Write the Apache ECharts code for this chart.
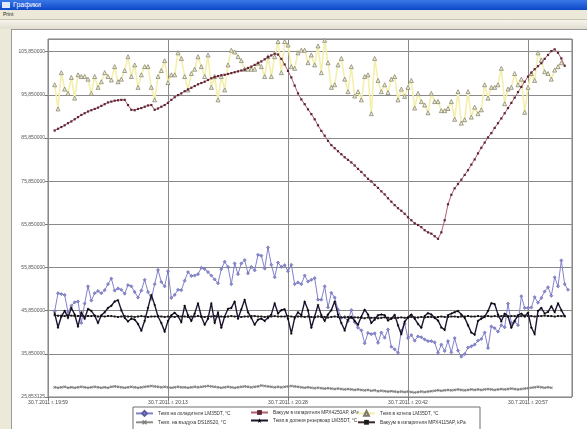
<!DOCTYPE html>
<html><head><meta charset="utf-8">
<script src="https://cdn.jsdelivr.net/npm/echarts@6/dist/echarts.min.js"></script>
<style>
html,body{margin:0;padding:0;width:587px;height:429px;overflow:hidden;background:#ece9d8;font-family:"Liberation Sans",Arial,sans-serif;}
#tb{position:absolute;left:0;top:0;width:587px;height:10px;background:linear-gradient(#3a78e8,#0c48c8);}
#tb span{position:absolute;left:13px;top:1px;font-size:7px;color:#fff;}
#tb i{position:absolute;left:2px;top:2px;width:8px;height:6px;background:#dfe8ff;}
#mn{position:absolute;left:3px;top:11px;font-size:5px;color:#222;}
#bar{position:absolute;left:0;top:19px;width:587px;height:9px;background:linear-gradient(#f6f4ec,#e2ded0);border-top:1px solid #c8c4b4;}
#panel{position:absolute;left:11px;top:29px;width:576px;height:400px;background:#fff;border-left:1px solid #9a9a9a;border-top:1px solid #9a9a9a;}
#chart{position:absolute;left:0;top:0;width:587px;height:429px;}
</style></head>
<body>
<div id="tb"><i></i><span>Графики</span></div>
<div id="mn">Print</div>
<div id="bar"></div>
<div id="panel"></div>
<div id="chart"></div>
<script>
// tick labels
const xTickLabels = ['30.7.2011 г. 19:59','30.7.2011 г. 20:13','30.7.2011 г. 20:28','30.7.2011 г. 20:42','30.7.2011 г. 20:57'];
const seriesNames = ['Темп.на охладителя LM35DT, °C','Вакуум в изпарителя MPX4250AP, kPa','Темп.в котела LM35DT, °C','Темп. на въздуха DS18S20, °C','Темп.в долния резервоар LM35DT, °C','Вакуум в изпарителя MPX4115AP, kPa'];
// sample index of the first reading (one sample every ~25 s)
const firstSample = 2;

const coolerTemp = [45.7,49.9,49.7,49.5,45.5,47.0,47.8,48.0,43.0,47.5,51.5,48.2,49.9,50.4,49.9,50.6,52.0,53.3,50.5,51.0,50.7,49.8,51.8,51.5,50.2,48.9,50.5,53.0,50.2,48.6,52.0,55.3,52.5,51.5,55.0,48.8,49.5,50.7,50.6,52.8,54.8,53.9,54.0,54.3,55.8,55.5,54.8,54.0,53.1,52.2,55.5,57.2,56.0,52.0,56.8,54.3,56.8,57.6,54.5,56.0,55.2,58.8,58.6,55.6,60.5,56.5,53.6,57.0,56.0,56.4,55.0,56.5,52.0,52.4,52.0,54.0,52.6,53.0,53.4,48.4,48.4,51.5,46.6,50.0,48.9,46.1,44.2,44.4,43.4,46.0,43.2,41.9,41.3,38.3,40.7,40.4,40.6,38.4,40.8,39.6,41.5,37.5,36.9,36.1,41.2,42.8,39.5,40.2,38.9,39.9,39.7,39.2,38.8,38.8,38.5,36.1,38.0,36.5,38.8,36.2,39.5,36.6,35.2,35.8,37.3,37.6,38.0,38.9,39.3,40.8,37.2,42.2,41.8,41.0,42.5,42.0,47.5,43.0,43.3,42.5,49.2,46.5,46.5,46.6,49.0,47.7,48.8,50.3,51.3,49.3,53.6,51.5,57.5,52.0,50.7];

const vacuum4250 = [87.6,88.0,88.4,88.8,89.3,89.7,90.2,90.7,91.2,91.6,92.0,92.3,92.6,92.9,93.3,93.7,94.1,94.3,94.5,94.6,94.7,94.7,93.5,92.4,92.3,92.6,92.8,93.1,93.4,93.5,92.4,92.7,93.1,93.5,94.0,94.7,95.3,95.8,96.2,96.7,97.1,97.5,97.9,98.3,98.6,98.9,99.3,99.7,100.0,100.2,100.4,100.5,100.7,100.9,101.1,101.3,101.5,101.7,102.1,102.4,102.8,103.2,103.6,104.1,104.6,105.0,105.4,105.2,104.2,102.9,101.4,99.9,98.0,96.2,94.8,93.7,92.5,91.4,90.2,88.8,87.5,86.4,85.2,84.2,83.5,82.8,82.1,81.4,80.8,80.2,79.5,78.7,78.0,77.2,76.4,75.8,75.0,74.3,73.5,72.8,71.9,71.1,70.3,69.6,69.0,68.3,67.5,66.8,66.1,65.7,65.2,64.5,64.0,63.7,63.1,62.5,64.0,66.8,70.5,72.7,74.2,75.2,76.2,77.3,78.4,79.7,80.9,82.3,83.6,84.8,86.0,87.0,88.2,89.3,90.4,91.6,92.8,94.0,95.2,96.5,97.7,98.9,100.1,101.0,101.8,102.5,103.2,104.2,105.1,106.0,106.4,105.6,104.3,102.6];

const boilerTemp = [98.2,92.6,101.0,97.2,96.2,99.9,95.1,100.5,100.1,100.1,99.5,96.2,100.1,97.6,98.9,101.0,100.1,99.3,102.4,98.9,99.5,101.5,104.7,100.1,102.8,97.6,100.5,102.4,102.4,97.6,94.7,100.1,101.5,103.8,98.7,100.5,100.5,105.6,104.3,100.1,97.0,100.8,101.8,104.7,102.4,100.1,105.1,97.6,100.1,94.7,100.1,97.0,102.8,106.2,105.8,104.7,103.8,101.8,101.8,101.8,101.8,103.2,102.4,100.1,104.7,100.1,104.7,108.2,101.0,
108.2,107.4,102.4,102.0,105.6,106.2,106.2,103.3,105.1,102.8,107.2,101.0,108.5,103.3,97.6,98.2,102.8,104.3,99.5,96.6,102.4,95.6,96.6,94.7,100.1,100.5,91.5,104.3,99.2,96.6,98.2,96.4,99.5,100.1,94.7,97.2,95.5,97.6,99.2,92.8,96.2,94.3,93.5,91.7,96.2,94.3,94.3,92.2,92.2,92.7,94.3,90.2,96.6,89.3,90.1,96.6,90.7,93.0,91.5,92.4,98.2,95.1,97.6,97.6,98.2,102.0,93.8,97.2,97.6,100.8,98.2,99.5,91.8,97.6,100.8,99.2,105.6,103.9,101.2,100.8,99.5,101.6,102.4,103.3];

const airTemp = [28.1,28.0,28.1,28.2,28.0,28.1,28.0,28.1,28.2,28.1,28.0,28.1,28.2,28.1,28.0,28.1,28.0,28.2,28.3,28.2,28.1,28.0,28.1,28.2,28.1,28.0,28.1,28.2,28.3,28.4,28.3,28.2,28.1,28.2,28.1,28.0,28.1,28.2,28.1,28.1,28.0,28.1,28.2,28.1,28.2,28.3,28.4,28.3,28.2,28.1,28.0,28.1,28.2,28.1,28.0,28.1,28.2,28.3,28.2,28.1,28.2,28.3,28.5,28.4,28.3,28.2,28.1,28.2,28.1,28.2,28.3,28.4,28.3,28.2,28.1,28.0,28.1,28.0,27.9,28.0,27.9,27.8,27.9,27.8,27.7,27.8,27.7,27.6,27.7,27.6,27.5,27.6,27.5,27.4,27.5,27.3,27.4,27.2,27.3,27.2,27.1,27.2,27.1,27.0,27.1,27.0,27.1,27.0,26.9,27.0,27.1,27.0,27.1,27.2,27.3,27.4,27.3,27.4,27.5,27.4,27.5,27.6,27.5,27.4,27.5,27.6,27.5,27.6,27.5,27.6,27.7,27.6,27.5,27.6,27.7,27.6,27.7,27.8,27.7,27.6,27.7,27.8,27.9,28.0,28.1,28.2,28.1,28.0,28.1,28.0];

const tankTemp = [45.3,42.0,44.5,45.8,44.2,46.5,45.0,42.2,45.5,44.0,46.3,45.8,44.7,43.0,44.8,45.5,46.5,47.0,48.0,48.3,46.0,44.2,43.4,44.0,43.8,42.8,41.2,43.5,46.5,49.5,47.2,44.5,43.0,41.0,43.5,44.8,45.4,44.6,43.2,47.0,44.8,43.5,45.2,47.6,44.5,42.6,44.0,47.6,43.0,45.5,41.9,44.5,46.3,46.5,48.0,44.0,46.2,48.4,45.5,44.2,42.6,43.8,44.0,43.5,44.2,45.0,47.6,45.2,46.0,46.2,44.0,40.6,44.2,45.5,44.8,48.0,46.0,41.9,44.5,47.2,44.8,43.5,45.0,46.0,48.0,45.0,43.0,41.3,43.8,44.5,43.5,42.6,44.5,46.1,45.0,43.0,43.8,44.8,45.0,44.8,43.6,44.0,44.9,42.5,40.4,43.3,44.3,45.0,44.0,42.8,41.9,44.6,45.3,45.0,44.2,43.6,42.0,41.4,44.8,45.2,45.5,45.8,45.0,44.2,42.5,40.8,40.3,43.5,44.0,44.4,45.8,47.6,47.4,45.0,43.4,45.2,44.6,41.9,43.5,44.8,45.2,44.5,45.4,42.0,40.4,45.8,46.5,45.2,45.6,46.9,45.5,47.6,46.0,44.6];

const vacuum4115 = [44.8,44.7,44.7,44.6,44.8,44.7,44.6,44.6,44.7,44.5,44.6,44.6,44.7,44.5,44.6,44.5,44.6,44.6,44.5,44.4,44.5,44.6,44.5,44.5,44.4,44.5,44.6,44.5,44.4,44.5,44.5,44.6,44.5,44.4,44.5,44.5,44.4,44.6,44.5,44.5,44.4,44.5,44.5,44.6,44.5,44.4,44.5,44.5,44.6,44.5,44.5,44.4,44.5,44.6,44.5,44.5,44.4,44.5,44.5,44.6,44.6,44.5,44.5,44.4,44.5,44.5,44.6,44.5,44.5,44.5,44.6,44.5,44.4,44.5,44.5,44.4,44.5,44.4,44.3,44.5,44.4,44.4,44.3,44.4,44.5,44.4,44.3,44.3,44.4,44.2,44.3,44.3,44.2,44.1,44.3,44.2,44.2,44.1,44.2,44.3,44.2,44.1,44.2,44.2,44.3,44.2,44.3,44.4,44.3,44.3,44.4,44.3,44.4,44.4,44.3,44.4,44.5,44.4,44.4,44.5,44.5,44.4,44.5,44.5,44.6,44.5,44.5,44.6,44.5,44.6,44.6,44.5,44.6,44.5,44.6,44.6,44.5,44.6,44.6,44.5,44.6,44.7,44.6,44.6,44.5,44.6,44.6,44.7,44.6,44.6,44.5,44.6,44.6,44.6];

const yMin = 25.853125, yStep = 10;
const samplesPerTick = 36;

function pts(arr){ return arr.map((v,i)=>[firstSample+i, v]); }

const star = 'path://M50,0L61,35L98,35L68,57L79,91L50,70L21,91L32,57L2,35L39,35Z';
const cross = 'path://M0,2L2,0L5,3L8,0L10,2L7,5L10,8L8,10L5,7L2,10L0,8L3,5Z';

const chart = echarts.init(document.getElementById('chart'), null, {renderer:'canvas'});
const legText = {fontSize:4.8, color:'#333', fontFamily:'Liberation Sans'};
function leg(left, names){
  return {orient:'vertical', left:left, top:410, itemGap:3, itemWidth:17, itemHeight:6,
    textStyle:legText, data:names, selectedMode:false, padding:0};
}
chart.setOption({
  backgroundColor:'transparent',
  animation:false,
  grid:{left:48, top:39, right:15, bottom:32, show:true, borderColor:'#7a7a7a', borderWidth:1, backgroundColor:'#fff'},
  graphic:[{type:'rect', shape:{x:133, y:407, width:347, height:30}, style:{fill:'#fff', stroke:'#6e6e6e', lineWidth:1}, z:-1}],
  legend:[leg(135,[seriesNames[0],seriesNames[3]]), leg(250,[seriesNames[1],seriesNames[4]]), leg(357,[seriesNames[2],seriesNames[5]])],
  xAxis:{type:'value', min:0, max:157.2, interval:samplesPerTick,
    axisLine:{show:false}, axisTick:{show:true, length:3, lineStyle:{color:'#777'}},
    splitLine:{show:true, lineStyle:{color:'#8a8a8a', width:1}},
    axisLabel:{fontSize:5, color:'#444', margin:3, showMaxLabel:false, fontFamily:'Liberation Sans',
      formatter:v=>xTickLabels[Math.round(v/samplesPerTick)] || ''}},
  yAxis:{type:'value', min:yMin, max:108.8, interval:yStep,
    axisLine:{show:false}, axisTick:{show:true, length:3, lineStyle:{color:'#777'}},
    splitLine:{show:true, lineStyle:{color:'#8a8a8a', width:1}},
    axisLabel:{fontSize:5, color:'#555', margin:3, showMaxLabel:false, fontFamily:'Liberation Sans',
      formatter:v=>v.toFixed(6).replace('.',',')}},
  series:[
    {name:seriesNames[2], type:'line', data:pts(boilerTemp), z:2,
      lineStyle:{color:'#f4efad', width:1.6}, symbol:'triangle', symbolSize:4,
      itemStyle:{color:'#eeecd4', borderColor:'#7c7a66', borderWidth:0.7}},
    {name:seriesNames[1], type:'line', data:pts(vacuum4250), z:3,
      lineStyle:{color:'#b0606e', width:1}, symbol:'rect', symbolSize:2.2,
      itemStyle:{color:'#5e2435'}},
    {name:seriesNames[3], type:'line', data:pts(airTemp), z:3,
      lineStyle:{color:'#8c8c8c', width:1}, symbol:cross, symbolSize:3,
      itemStyle:{color:'#7c7c7c'}},
    {name:seriesNames[0], type:'line', data:pts(coolerTemp), z:4,
      lineStyle:{color:'#8282cc', width:1}, symbol:'diamond', symbolSize:3.2,
      itemStyle:{color:'#8a8ad0', borderColor:'#5c5ca6', borderWidth:0.5}},
    {name:seriesNames[5], type:'line', data:pts(vacuum4115), z:5,
      lineStyle:{color:'#3a2a2a', width:1}, symbol:'rect', symbolSize:2,
      itemStyle:{color:'#1a1a1a'}},
    {name:seriesNames[4], type:'line', data:pts(tankTemp), z:6,
      lineStyle:{color:'#1e1430', width:1.4}, symbol:star, symbolSize:3.2,
      itemStyle:{color:'#000'}}
  ]
});
</script>
</body></html>
